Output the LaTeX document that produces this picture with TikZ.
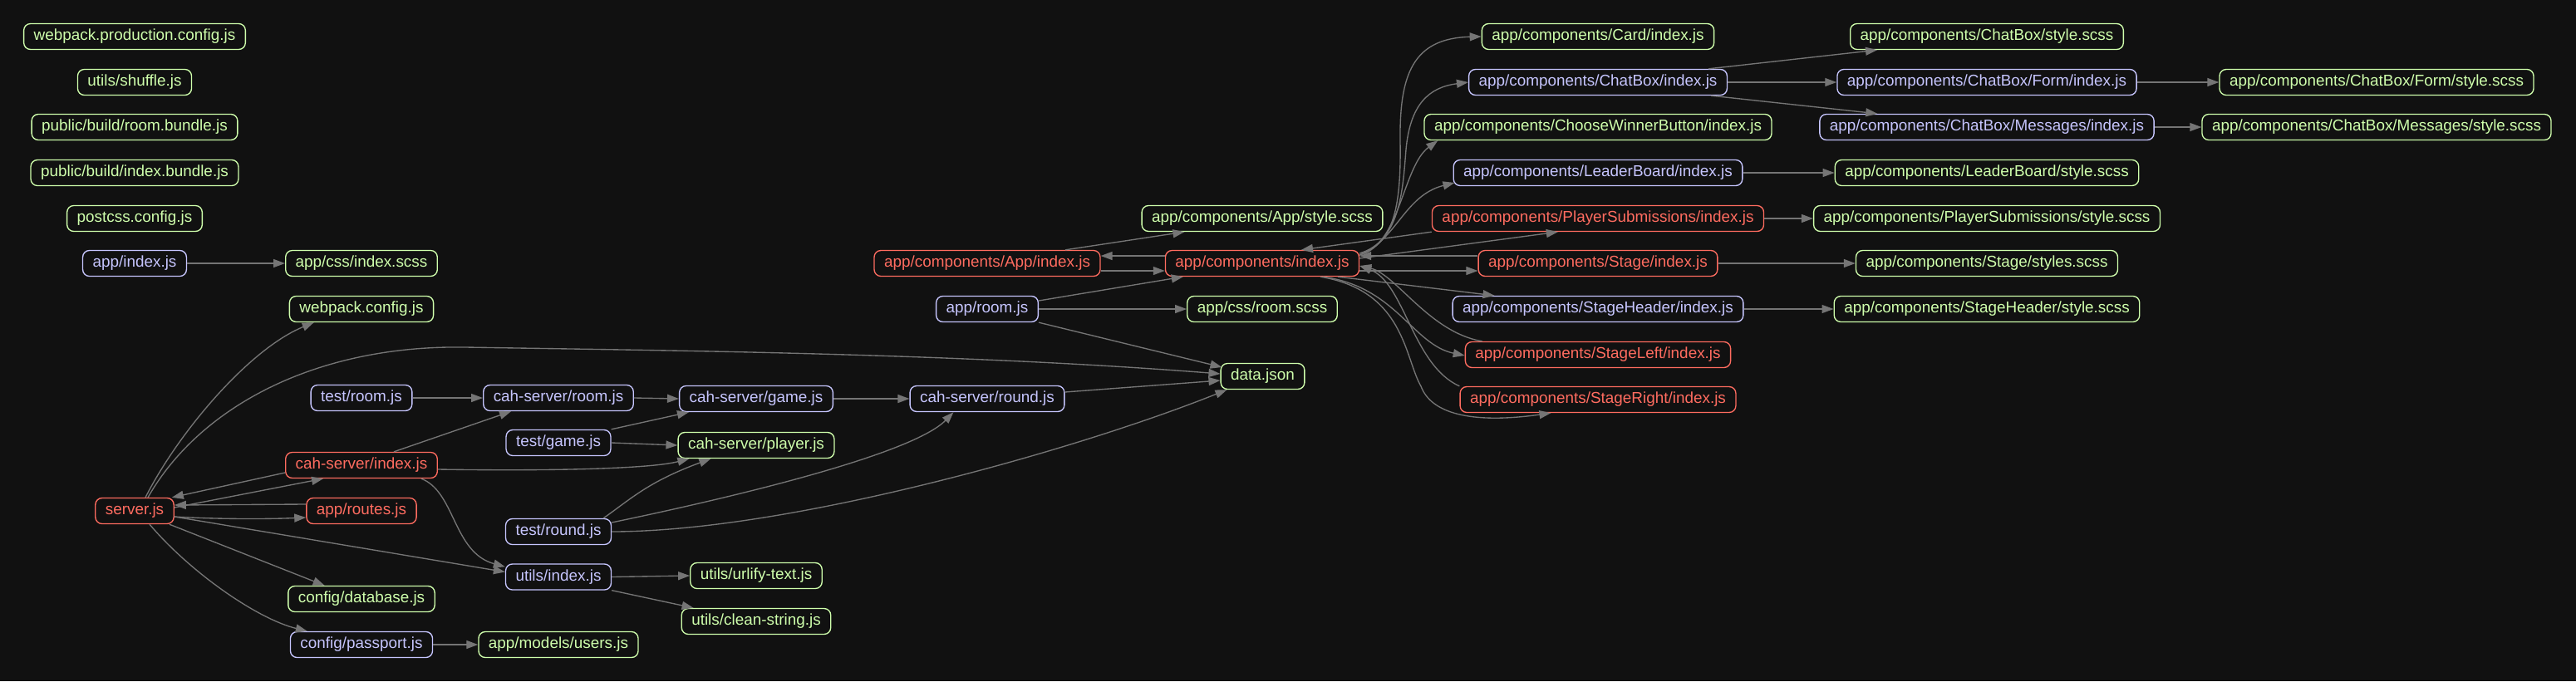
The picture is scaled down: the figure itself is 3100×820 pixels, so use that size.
\documentclass[tikz,border=0pt]{standalone}
\usepackage{fontspec}
\setmainfont{Liberation Sans}
\usetikzlibrary{arrows.meta}
\definecolor{bgc}{HTML}{111111}
\definecolor{gn}{HTML}{CFFFAC}
\definecolor{bl}{HTML}{C6C5FE}
\definecolor{rd}{HTML}{FF6C60}
\definecolor{edg}{HTML}{757575}
\begin{document}
\begin{tikzpicture}[x=1pt,y=-1pt,
  fnode/.style={draw, rounded corners=8pt, line width=1.35pt, minimum height=31pt, inner xsep=12pt, inner ysep=0pt, font=\fontsize{18.9}{22}\selectfont, fill=bgc},
  gnode/.style={fnode, draw=gn, text=gn},
  bnode/.style={fnode, draw=bl, text=bl},
  rnode/.style={fnode, draw=rd, text=rd},
  dep/.style={draw=edg, line width=1.35pt, -{Triangle[length=14pt,width=10pt]}}]
\fill[bgc] (0,0) rectangle (3100,820);
\useasboundingbox (0,0) rectangle (3100,820);
% column 1
\node[gnode] (wpc) at (162,44) {webpack.production.config.js};
\node[gnode] (shuf) at (162,99) {utils/shuffle.js};
\node[gnode] (rbun) at (162,153) {public/build/room.bundle.js};
\node[gnode] (ibun) at (162,208) {public/build/index.bundle.js};
\node[gnode] (pcss) at (162,263) {postcss.config.js};
\node[bnode] (appidx) at (162,317) {app/index.js};
\node[rnode] (server) at (162,615) {server.js};
% column 2
\node[gnode] (cssidx) at (435,317) {app/css/index.scss};
\node[gnode] (wpcfg) at (435,372) {webpack.config.js};
\node[bnode] (troom) at (435,479) {test/room.js};
\node[rnode] (csidx) at (435,560) {cah-server/index.js};
\node[rnode] (routes) at (435,615) {app/routes.js};
\node[gnode] (cfgdb) at (435,721) {config/database.js};
\node[bnode] (cfgpp) at (435,776) {config/passport.js};
% column 3
\node[bnode] (csroom) at (672,479) {cah-server/room.js};
\node[bnode] (tgame) at (672,533) {test/game.js};
\node[bnode] (tround) at (672,640) {test/round.js};
\node[bnode] (uidx) at (672,694.5) {utils/index.js};
\node[gnode] (users) at (672,776) {app/models/users.js};
% column 4
\node[bnode] (csgame) at (910,480) {cah-server/game.js};
\node[gnode] (csplayer) at (910,536) {cah-server/player.js};
\node[gnode] (urlify) at (910,693) {utils/urlify-text.js};
\node[gnode] (clean) at (910,748) {utils/clean-string.js};
% column 5
\node[rnode] (appApp) at (1188,317) {app/components/App/index.js};
\node[bnode] (approom) at (1188,372) {app/room.js};
\node[bnode] (csround) at (1188,480) {cah-server/round.js};
% column 6
\node[gnode] (appStyle) at (1519,263) {app/components/App/style.scss};
\node[rnode] (comp) at (1519,317) {app/components/index.js};
\node[gnode] (cssroom) at (1519,372) {app/css/room.scss};
\node[gnode] (data) at (1519.5,453) {data.json};
% column 7
\node[gnode] (card) at (1923,44) {app/components/Card/index.js};
\node[bnode] (chat) at (1923,99) {app/components/ChatBox/index.js};
\node[gnode] (cwb) at (1923,153) {app/components/ChooseWinnerButton/index.js};
\node[bnode] (lb) at (1923,208) {app/components/LeaderBoard/index.js};
\node[rnode] (ps) at (1923,263) {app/components/PlayerSubmissions/index.js};
\node[rnode] (stage) at (1923,317) {app/components/Stage/index.js};
\node[bnode] (sh) at (1923,372) {app/components/StageHeader/index.js};
\node[rnode] (sl) at (1923,427) {app/components/StageLeft/index.js};
\node[rnode] (sr) at (1923,481) {app/components/StageRight/index.js};
% column 8
\node[gnode] (chatstyle) at (2391,44) {app/components/ChatBox/style.scss};
\node[bnode] (form) at (2391,99) {app/components/ChatBox/Form/index.js};
\node[bnode] (msgs) at (2391,153) {app/components/ChatBox/Messages/index.js};
\node[gnode] (lbstyle) at (2391,208) {app/components/LeaderBoard/style.scss};
\node[gnode] (psstyle) at (2391,263) {app/components/PlayerSubmissions/style.scss};
\node[gnode] (stagestyle) at (2391,317) {app/components/Stage/styles.scss};
\node[gnode] (shstyle) at (2391,372) {app/components/StageHeader/style.scss};
% column 9
\node[gnode] (formstyle) at (2860,99) {app/components/ChatBox/Form/style.scss};
\node[gnode] (msgstyle) at (2860,153) {app/components/ChatBox/Messages/style.scss};

% edges, left part
\draw[dep] (appidx.east) -- (cssidx.west);
\draw[dep] ([xshift=13pt]server.north) .. controls (215,520) and (300,420) .. ([xshift=30pt]wpcfg.south west);
\draw[dep] ([xshift=16pt]server.north) .. controls (240,490) and (380,415) .. (560,418) .. controls (800,422) and (1150,425) .. ([yshift=3pt]data.west);
\draw[dep] ([yshift=-9pt]csidx.west) -- ([xshift=-3pt]server.north east);
\draw[dep] ([yshift=4pt]server.east) -- ([xshift=46pt]csidx.south west);
\draw[dep] ([yshift=8pt]routes.west) -- ([yshift=7pt]server.east);
\draw[dep] ([yshift=-7pt]server.east) .. controls (260,625) and (320,625) .. ([yshift=-8pt]routes.west);
\draw[dep] ([yshift=-7pt]server.east) -- ([yshift=6pt]uidx.west);
\draw[dep] ([xshift=-6pt]server.south east) -- ([xshift=44.5pt]cfgdb.north west);
\draw[dep] ([xshift=18pt]server.south) .. controls (230,690) and (310,745) .. ([xshift=21pt]cfgpp.north west);
\draw[dep] (cfgpp.east) -- (users.west);
\draw[dep] (troom.east) -- (csroom.west);
\draw[dep] ([xshift=39pt]csidx.north) -- ([xshift=34pt]csroom.south west);
\draw[dep] ([yshift=-5pt]csidx.east) .. controls (650,567) and (780,565) .. ([xshift=14pt]csplayer.south west);
\draw[dep] ([xshift=-20pt]csidx.south east) .. controls (548,592) and (545,665) .. ([yshift=-4pt]uidx.north west);
\draw[dep] (csroom.east) -- (csgame.west);
\draw[dep] (tgame.north east) -- ([xshift=12pt]csgame.south west);
\draw[dep] (tgame.east) -- (csplayer.west);
\draw[dep] ([xshift=-10pt]tround.north east) .. controls (760,600) and (780,580) .. ([xshift=40pt]csplayer.south west);
\draw[dep] ([yshift=11pt]tround.east) .. controls (900,595) and (1100,545) .. ([xshift=53pt]csround.south west);
\draw[dep] (tround.east) .. controls (950,640) and (1300,540) .. ([xshift=8pt]data.south west);
\draw[dep] (csgame.east) -- (csround.west);
\draw[dep] ([yshift=8pt]csround.east) -- ([yshift=-5pt]data.west);
\draw[dep] (uidx.east) -- (urlify.west);
\draw[dep] (uidx.south east) -- ([xshift=15pt]clean.north west);
% middle part
\draw[dep] ([yshift=10pt]approom.east) -- ([xshift=22pt]comp.south west);
\draw[dep] (approom.east) -- (cssroom.west);
\draw[dep] (approom.south east) -- ([xshift=2pt,yshift=11pt]data.west);
\draw[dep] ([xshift=94pt]appApp.north) -- ([xshift=52pt]appStyle.south west);
\draw[dep] ([yshift=-9pt]appApp.east) -- ([yshift=-9pt]comp.west);
\draw[dep] ([yshift=9pt]comp.west) -- ([yshift=9pt]appApp.east);
% right part
\draw[dep] ([yshift=12pt]comp.east) .. controls (1680,295) and (1686,240) .. (1685,170) .. controls (1684,90) and (1700,46) .. (card.west);
\draw[dep] ([yshift=12pt]comp.east) .. controls (1685,290) and (1688,230) .. (1692,180) .. controls (1697,125) and (1720,105) .. (chat.west);
\draw[dep] ([yshift=10pt]comp.east) .. controls (1685,295) and (1688,200) .. ([xshift=17pt]cwb.south west);
\draw[dep] ([yshift=10pt]comp.east) .. controls (1680,290) and (1690,235) .. ([xshift=2pt,yshift=-12pt]lb.west);
\draw[dep] ([yshift=6pt]comp.east) -- ([xshift=152pt]ps.south west);
\draw[dep] (ps.south west) -- ([xshift=47pt]comp.north);
\draw[dep] ([yshift=9pt]stage.west) -- ([yshift=9pt]comp.east);
\draw[dep] ([yshift=-9pt]comp.east) -- ([yshift=-9pt]stage.west);
\draw[dep] ([xshift=91pt]comp.south) -- ([xshift=51pt]sh.north west);
\draw[dep] ([xshift=73pt]comp.south) .. controls (1680,345) and (1700,415) .. ([yshift=-1pt]sl.west);
\draw[dep] ([xshift=21pt]sl.north west) .. controls (1720,400) and (1680,330) .. ([yshift=-3pt]comp.east);
\draw[dep] ([xshift=70pt]comp.south) .. controls (1690,350) and (1690,430) .. (1710,465) .. controls (1725,505) and (1790,508) .. ([xshift=110pt]sr.south west);
\draw[dep] (sr.north west) .. controls (1700,440) and (1690,340) .. ([yshift=-3pt]comp.east);
\draw[dep] ([xshift=-23pt]chat.north east) -- ([xshift=33pt]chatstyle.south west);
\draw[dep] (chat.east) -- (form.west);
\draw[dep] ([xshift=-20pt]chat.south east) -- ([xshift=70pt]msgs.north west);
\draw[dep] (form.east) -- (formstyle.west);
\draw[dep] (msgs.east) -- (msgstyle.west);
\draw[dep] (lb.east) -- (lbstyle.west);
\draw[dep] (ps.east) -- (psstyle.west);
\draw[dep] (stage.east) -- (stagestyle.west);
\draw[dep] (sh.east) -- (shstyle.west);
\end{tikzpicture}
\end{document}
